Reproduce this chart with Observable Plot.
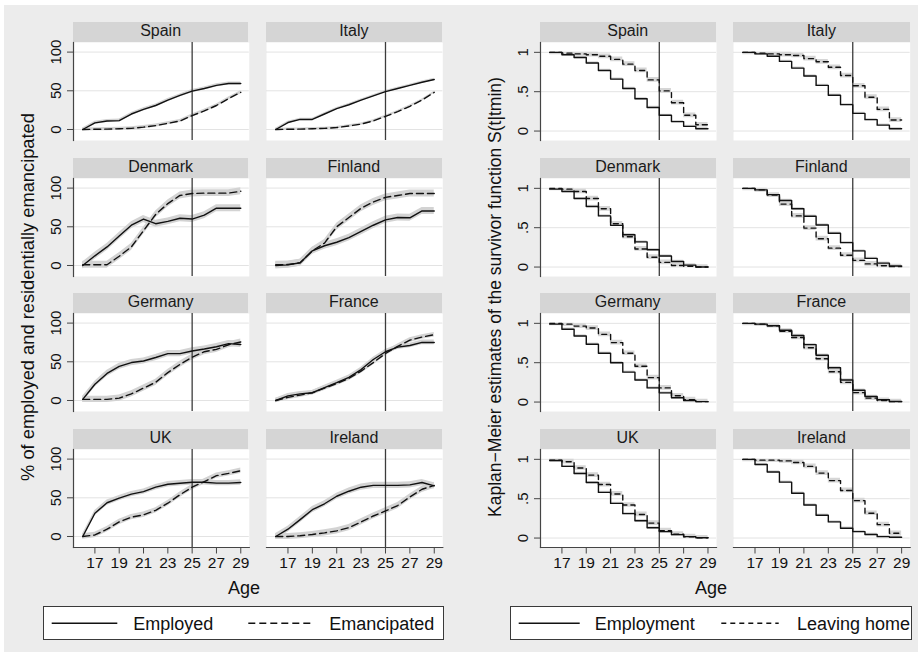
<!DOCTYPE html>
<html>
<head>
<meta charset="utf-8">
<script src="https://cdn.jsdelivr.net/npm/d3@7"></script>
<script src="https://cdn.jsdelivr.net/npm/@observablehq/plot@0.6"></script>
<style>
  body { margin: 0; background: #ffffff; }
  #root { position: relative; width: 918px; height: 653px; overflow: hidden;
          font-family: "Liberation Sans", Arial, sans-serif; color: #111; }
  .bg { position: absolute; left: 4px; top: 5px; width: 914px; height: 647px; background: #ececec; }
  .strip { position: absolute; height: 20px; background: #d5d5d5; font-size: 16px;
           line-height: 18px; text-align: center; color: #1a1a1a; white-space: nowrap; }
  .ytitle { position: absolute; font-size: 18.3px; line-height: 18px; white-space: nowrap;
            transform: translate(-50%, -50%) rotate(-90deg); color: #111; }
  .ytitle.km { font-size: 17.5px; }
  .xtitle { position: absolute; font-size: 18px; line-height: 18px; white-space: nowrap;
            transform: translateX(-50%); color: #111; }
  .legend { position: absolute; background: #fff; border: 1px solid #3a3a3a; box-sizing: border-box; }
  .legtext { position: absolute; font-size: 18px; line-height: 18px; white-space: nowrap; color: #111; }
</style>
</head>
<body>
<div id="root"><div class="bg"></div></div>
<script>
// ---------------- data ----------------
const countries = ["Spain", "Italy", "Denmark", "Finland", "Germany", "France", "UK", "Ireland"];
const ages = [16, 17, 18, 19, 20, 21, 22, 23, 24, 25, 26, 27, 28, 29];
const ageTicks = [17, 19, 21, 23, 25, 27, 29];
const pctTicks = [0, 50, 100];
const kmTicks = [0, 0.5, 1];
const kmTickLabels = ["0", ".5", "1"];
const cutoffAge = 25;

// % employed (solid), ages 16..29, one row per country (same order as countries)
const employed = [
  [0, 8.6, 11, 11.5, 20, 26, 31, 38, 44, 49.6, 53, 57, 59.5, 59.5],
  [0, 9, 13, 13, 20, 27, 32, 38, 43.5, 49, 53, 57, 61, 64.6],
  [0, 12.5, 24, 38, 52, 60, 54, 57, 61, 60, 65, 74, 74, 74],
  [0, 0.8, 3.5, 19, 25.5, 30, 36, 44, 52, 59, 62, 61.6, 70.5, 70.5],
  [1.5, 21, 35, 44, 49, 51, 55.5, 60.5, 60.5, 64, 66.5, 69.5, 73.5, 72.4],
  [0, 6, 8.5, 10, 16.6, 23, 30, 40, 53, 63, 69, 71, 75, 75],
  [0, 30, 43.6, 49.6, 54.7, 58, 63.7, 67.5, 68.8, 70, 70, 69, 69, 69.7],
  [0, 9.4, 21.8, 34.6, 42.3, 52, 58.5, 63.7, 66, 66, 66, 66.7, 69.7, 65.4]
];
// % residentially emancipated (dashed), ages 16..29
const emancipated = [
  [0, 0.3, 0.5, 1, 1.5, 3, 5, 8, 11, 18, 24, 31, 40, 48],
  [0, 0.3, 0.5, 1, 1.5, 2.5, 4.5, 7, 11, 17, 23, 30, 38, 48],
  [1, 1, 1, 12, 24, 45, 66, 80, 90.5, 93, 93.5, 93.5, 93.5, 96],
  [1, 1.3, 3.5, 19, 29, 50, 62, 74, 82, 88, 90.5, 93, 93, 93],
  [1.5, 1.5, 1.5, 3, 8.5, 16, 23.5, 36, 46.6, 56, 63, 66, 72, 75.6],
  [0, 4, 7, 10, 16, 22, 28.6, 38, 49, 60.7, 70, 78, 82, 85],
  [0, 2, 9.4, 18.8, 25, 28, 33.8, 43, 54, 63.7, 71, 78.6, 81.6, 85],
  [0, 0, 1, 2.6, 4.7, 7.3, 11.5, 18.8, 26.5, 33, 40, 51, 61, 66]
];
// half-width of the confidence band around each curve (percentage points)
const pctBand = [2, 1.5, 4.5, 4.5, 4, 3, 3.5, 4];

// Kaplan-Meier survivor estimates, value held over [age, age+1) for ages 16..28
const kmEmployment = [
  [1.0, 0.97, 0.935, 0.865, 0.77, 0.66, 0.54, 0.41, 0.30, 0.20, 0.12, 0.06, 0.03],
  [1.0, 0.98, 0.95, 0.885, 0.80, 0.70, 0.58, 0.455, 0.335, 0.225, 0.145, 0.075, 0.03],
  [0.99, 0.96, 0.87, 0.77, 0.65, 0.53, 0.41, 0.32, 0.22, 0.14, 0.07, 0.025, 0.0],
  [1.0, 0.98, 0.92, 0.845, 0.74, 0.645, 0.535, 0.43, 0.31, 0.205, 0.11, 0.05, 0.013],
  [0.99, 0.925, 0.84, 0.735, 0.62, 0.50, 0.38, 0.28, 0.18, 0.117, 0.055, 0.02, 0.005],
  [1.0, 0.99, 0.97, 0.913, 0.845, 0.73, 0.595, 0.435, 0.28, 0.15, 0.07, 0.03, 0.007],
  [0.985, 0.91, 0.82, 0.705, 0.58, 0.44, 0.31, 0.22, 0.13, 0.082, 0.043, 0.018, 0.004],
  [1.0, 0.935, 0.84, 0.71, 0.57, 0.42, 0.29, 0.205, 0.125, 0.082, 0.045, 0.018, 0.01]
];
const kmLeaving = [
  [1.0, 0.99, 0.98, 0.97, 0.95, 0.91, 0.85, 0.77, 0.65, 0.51, 0.36, 0.20, 0.08],
  [1.0, 0.99, 0.98, 0.97, 0.96, 0.92, 0.88, 0.81, 0.705, 0.575, 0.43, 0.275, 0.14],
  [1.0, 0.99, 0.96, 0.87, 0.74, 0.55, 0.385, 0.23, 0.125, 0.06, 0.02, 0.01, 0.0],
  [1.0, 0.98, 0.915, 0.80, 0.65, 0.495, 0.36, 0.24, 0.15, 0.085, 0.04, 0.017, 0.005],
  [1.0, 0.99, 0.965, 0.94, 0.86, 0.755, 0.62, 0.455, 0.31, 0.18, 0.08, 0.03, 0.005],
  [1.0, 0.99, 0.97, 0.90, 0.82, 0.69, 0.55, 0.385, 0.25, 0.12, 0.05, 0.02, 0.005],
  [0.99, 0.97, 0.89, 0.80, 0.68, 0.56, 0.42, 0.30, 0.19, 0.095, 0.05, 0.017, 0.004],
  [1.0, 0.99, 0.99, 0.98, 0.96, 0.91, 0.825, 0.73, 0.605, 0.475, 0.315, 0.17, 0.06]
];
const kmBandEmployment = 0.015;
const kmBandLeaving = 0.03;

// ---------------- layout ----------------
const root = document.getElementById("root");
const LAYOUT = {
  left:  { x: [72.7, 265.7], w: [175.8, 176.3] },
  right: { x: [539.7, 733.0], w: [176.0, 176.7] },
  rowTop: 41.7, rowStep: 135.8, frameH: 98, stripH: 20
};
const FONT = "Liberation Sans, Arial, sans-serif";
const INK = "#111";
const AXIS = "#454545";

function place(el, left, top) {
  el.style.position = "absolute";
  el.style.left = left + "px";
  el.style.top = top + "px";
  root.appendChild(el);
  return el;
}

function cell(panel, idx, seriesMarks, yDomain, yTicks, yFormat) {
  const col = idx % 2, row = Math.floor(idx / 2);
  const fx = LAYOUT[panel].x[col], fw = LAYOUT[panel].w[col];
  const fy = LAYOUT.rowTop + row * LAYOUT.rowStep, fh = LAYOUT.frameH;
  // strip header
  const strip = document.createElement("div");
  strip.className = "strip";
  strip.style.width = fw + "px";
  strip.textContent = countries[idx];
  place(strip, fx, fy - LAYOUT.stripH);

  const mL = col === 0 ? 36 : 0, mB = row === 3 ? 34 : 0, mR = 2, mT = 0;
  const marks = [
    Plot.frame({ fill: "#ffffff", stroke: "none" }),
    Plot.gridY(yTicks, { stroke: "#e3e3e3", strokeOpacity: 1, strokeWidth: 1 }),
    ...seriesMarks.bands,
    Plot.ruleX([cutoffAge], { stroke: "#3c3c3c", strokeWidth: 1.3 }),
    ...seriesMarks.lines
  ];
  if (col === 0) {
    marks.push(Plot.frame({ anchor: "left", stroke: AXIS, strokeWidth: 1.2 }));
    marks.push(Plot.axisY(yTicks, { tickSize: 6, tickRotate: -90, tickPadding: 6.5,
      tickFormat: yFormat, fontSize: 15, stroke: AXIS, fill: INK, label: null }));
  }
  if (row === 3) {
    marks.push(Plot.frame({ anchor: "bottom", stroke: AXIS, strokeWidth: 1.2 }));
    marks.push(Plot.axisX(ageTicks, { tickSize: 6.5, tickPadding: 3, fontSize: 15.5,
      stroke: AXIS, fill: INK, label: null }));
  }
  const svg = Plot.plot({
    width: mL + fw + mR, height: mT + fh + mB,
    marginLeft: mL, marginRight: mR, marginTop: mT, marginBottom: mB,
    x: { domain: [15.24, 29.7], axis: null },
    y: { domain: yDomain, axis: null },
    style: { background: "transparent", fontFamily: FONT, overflow: "visible", color: INK },
    marks
  });
  place(svg, fx - mL, fy - mT);
}

// left panel: % employed / emancipated
countries.forEach((c, i) => {
  const emp = ages.map((a, k) => ({ age: a, v: employed[i][k] }));
  const ema = ages.map((a, k) => ({ age: a, v: emancipated[i][k] }));
  const b = pctBand[i];
  const band = (data) => Plot.areaY(data, { x: "age", y1: d => d.v - b, y2: d => d.v + b, fill: "#d3d3d3" });
  cell("left", i, {
    bands: [band(emp), band(ema)],
    lines: [
      Plot.line(emp, { x: "age", y: "v", stroke: INK, strokeWidth: 1.4 }),
      Plot.line(ema, { x: "age", y: "v", stroke: INK, strokeWidth: 1.4, strokeDasharray: "7,4" })
    ]
  }, [-14.2, 112.4], pctTicks, d => String(d));
});

// right panel: Kaplan-Meier survivor functions
countries.forEach((c, i) => {
  const steps = (vals) => ages.map((a, k) => ({ age: a, v: vals[Math.min(k, vals.length - 1)] }));
  const emp = steps(kmEmployment[i]);
  const lea = steps(kmLeaving[i]);
  const band = (data, b) => Plot.areaY(data, { x: "age", y1: d => Math.max(0, d.v - b),
    y2: d => Math.min(1, d.v + b), curve: "step-after", fill: "#d6d6d6" });
  cell("right", i, {
    bands: [band(emp, kmBandEmployment), band(lea, kmBandLeaving)],
    lines: [
      Plot.line(emp, { x: "age", y: "v", curve: "step-after", stroke: INK, strokeWidth: 1.4 }),
      Plot.line(lea, { x: "age", y: "v", curve: "step-after", stroke: INK, strokeWidth: 1.4, strokeDasharray: "5,4" })
    ]
  }, [-0.12, 1.125], kmTicks, d => kmTickLabels[kmTicks.indexOf(d)]);
});

// axis titles
function textDiv(cls, txt, left, top) {
  const d = document.createElement("div");
  d.className = cls; d.textContent = txt;
  return place(d, left, top);
}
textDiv("ytitle", "% of employed and residentially emancipated", 28, 297);
textDiv("ytitle km", "Kaplan\u2212Meier estimates of the survivor function S(t|tmin)", 494.5, 297);
textDiv("xtitle", "Age", 244, 579);
textDiv("xtitle", "Age", 711, 579);

// legends
function legend(x0, x1, items) {
  const box = document.createElement("div");
  box.className = "legend";
  box.style.width = (x1 - x0) + "px";
  box.style.height = "34.3px";
  place(box, x0, 605.7);
  const ns = "http://www.w3.org/2000/svg";
  const svg = document.createElementNS(ns, "svg");
  svg.setAttribute("width", 918); svg.setAttribute("height", 653);
  svg.style.position = "absolute"; svg.style.left = "0px"; svg.style.top = "0px";
  items.forEach(it => {
    const ln = document.createElementNS(ns, "line");
    ln.setAttribute("x1", it.k0); ln.setAttribute("x2", it.k1);
    ln.setAttribute("y1", 623.3); ln.setAttribute("y2", 623.3);
    ln.setAttribute("stroke", INK); ln.setAttribute("stroke-width", 1.4);
    if (it.dash) ln.setAttribute("stroke-dasharray", it.dash);
    svg.appendChild(ln);
    textDiv("legtext", it.label, it.t, 614.8);
  });
  root.appendChild(svg);
}
legend(43.3, 444.3, [
  { label: "Employed", k0: 51.7, k1: 117.3, t: 133.3 },
  { label: "Emancipated", k0: 248.3, k1: 313.3, t: 329.3, dash: "7,4" }
]);
legend(510.3, 912, [
  { label: "Employment", k0: 518.7, k1: 579.7, t: 594.7 },
  { label: "Leaving home", k0: 721.3, k1: 778.7, t: 797, dash: "5,4" }
]);
</script>
</body>
</html>
